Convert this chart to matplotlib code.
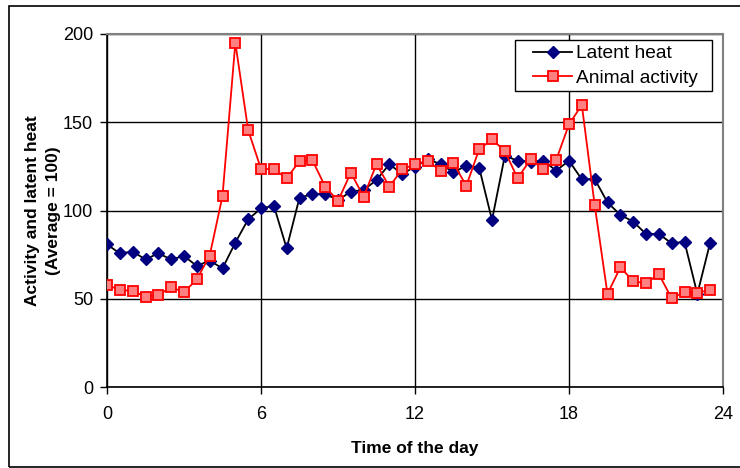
import matplotlib
matplotlib.use("Agg")
import matplotlib.pyplot as plt
from matplotlib.patches import Rectangle

plt.rcParams['font.family'] = ['Liberation Sans', 'DejaVu Sans']

hours = [i * 0.5 for i in range(48)]
latent_heat = [80.8, 75.7, 76.7, 72.3, 75.7, 72.3, 74.2, 68.6, 71.6, 67.2,
               81.8, 95.0, 101.2, 102.7, 78.6, 107.3, 109.2, 109.4, 105.9, 110.7,
               111.6, 117.3, 126.2, 120.7, 124.8, 129.0, 126.3, 121.6, 125.4, 124.3,
               94.6, 131.0, 128.2, 127.7, 128.2, 122.6, 128.2, 117.6, 117.8, 104.6,
               97.5, 93.7, 86.7, 86.7, 81.4, 82.3, 52.7, 81.8]
animal_activity = [57.8, 55.0, 54.4, 51.2, 52.1, 56.5, 53.7, 61.0, 74.4, 108.2,
                   195.0, 145.6, 123.5, 123.5, 118.2, 128.0, 128.6, 113.5, 105.4, 121.4,
                   107.8, 126.3, 113.5, 123.3, 126.3, 128.0, 122.6, 126.7, 114.0, 134.7,
                   140.3, 133.7, 118.2, 129.0, 123.5, 128.6, 148.8, 159.8, 103.1, 52.7,
                   67.8, 60.0, 58.7, 64.0, 50.2, 54.0, 53.4, 55.0]
x_ticks = [0, 6, 12, 18, 24]
y_ticks = [0, 50, 100, 150, 200]

fig = plt.figure(figsize=(7.4, 4.68), dpi=100)
fig.patches.append(Rectangle((9 / 740, 0.002), 1.2, 0.985, transform=fig.transFigure,
                             fill=False, edgecolor='black', linewidth=1.2))
ax = fig.add_axes([107 / 740, (468 - 387) / 468, (723 - 107) / 740, (387 - 34) / 468])

ax.plot(hours, latent_heat, color='black', linewidth=1.3, marker='D', markersize=6.5,
        markerfacecolor='#000080', markeredgecolor='#000080', label='Latent heat', zorder=3)
ax.plot(hours, animal_activity, color='#ff0000', linewidth=1.3, marker='s', markersize=6.5,
        markerfacecolor='#ff8080', markeredgecolor='#ff0000', markeredgewidth=1.3,
        label='Animal activity', zorder=3)

ax.set_xlim(0, 24)
ax.set_ylim(0, 200)
ax.set_xticks(x_ticks)
ax.set_yticks(y_ticks)
ax.grid(True, color='black', linewidth=1.0)
ax.set_axisbelow(True)
ax.tick_params(direction='out', length=5, width=1.0, labelsize=13, pad=5)
ax.tick_params(axis='x', pad=9)
for s in ['top', 'right']:
    ax.spines[s].set_color('#808080')
    ax.spines[s].set_linewidth(1.5)
for s in ['left', 'bottom']:
    ax.spines[s].set_color('black')
    ax.spines[s].set_linewidth(1.2)

ax.set_xlabel('Time of the day', fontsize=12.5, fontweight='bold', labelpad=13)
ax.set_ylabel('Activity and latent heat\n(Average = 100)', fontsize=12.5, fontweight='bold',
              labelpad=1, linespacing=1.5)

# legend frame (drawn separately to get Excel-like padding)
ax.add_patch(Rectangle((0.662, 0.8385), 0.320, 0.1445, transform=ax.transAxes,
                       facecolor='white', edgecolor='black', linewidth=1.0, zorder=5,
                       clip_on=False))
leg = ax.legend(loc='upper left', fontsize=13.8, frameon=False, borderpad=0,
                labelspacing=0.36, handlelength=2.05, handletextpad=0.2, borderaxespad=0,
                bbox_to_anchor=((533 - 107) / 616, (387 - 45) / 353))
leg.set_zorder(6)

fig.savefig('out.png', dpi=100)
